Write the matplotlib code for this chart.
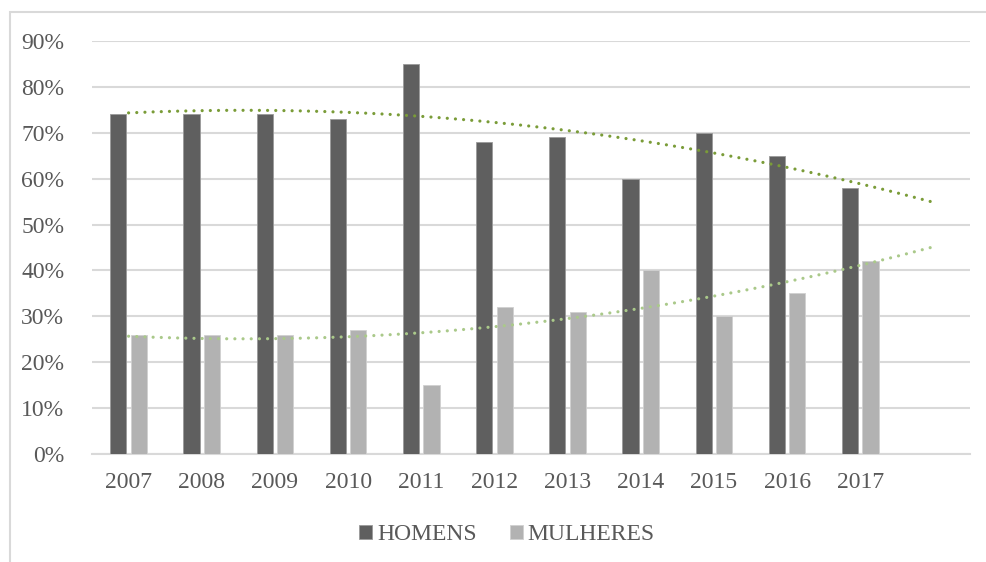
import numpy as np
import matplotlib
matplotlib.use("Agg")
import matplotlib.pyplot as plt
from matplotlib.patches import Rectangle

years = ["2007", "2008", "2009", "2010", "2011", "2012", "2013", "2014", "2015", "2016", "2017"]
homens = [0.74, 0.74, 0.74, 0.73, 0.85, 0.68, 0.69, 0.60, 0.70, 0.65, 0.58]
mulheres = [0.26, 0.26, 0.26, 0.27, 0.15, 0.32, 0.31, 0.40, 0.30, 0.35, 0.42]
yticks = [0, 0.1, 0.2, 0.3, 0.4, 0.5, 0.6, 0.7, 0.8, 0.9]

plt.rcParams['font.family'] = ['Liberation Serif', 'DejaVu Serif']
txt = '#595959'

fig = plt.figure(figsize=(9.87, 5.62), dpi=100)
ax = fig.add_axes([92/987, 1-454/562, (970-92)/987, (454-41)/562])

n = len(years)
x = np.arange(n)
w = 0.22
off = 0.14
ax.bar(x - off, homens, w, color='#5f5f5f', edgecolor='#9a9a9a', linewidth=0.6, label='HOMENS', zorder=3)
ax.bar(x + off, mulheres, w, color='#b2b2b2', edgecolor='#d0d0d0', linewidth=0.6, label='MULHERES', zorder=3)

# polynomial (order 2) trendlines, forecast forward one period
xf = np.arange(1, n + 1)
xs = np.linspace(1, n + 1, 300)
ph = np.polyfit(xf, homens, 2)
pm = np.polyfit(xf, mulheres, 2)
ax.plot(xs - 1, np.polyval(ph, xs), color='#7a9c38', lw=2.3, ls=(0, (0.01, 2.55)),
        dash_capstyle='round', zorder=4)
ax.plot(xs - 1, np.polyval(pm, xs), color='#aac98a', lw=2.3, ls=(0, (0.01, 2.55)),
        dash_capstyle='round', zorder=4)

ax.set_xlim(-0.5, n + 0.5)
ax.set_ylim(0, 0.9)
ax.set_xticks(list(x) + [n])
ax.set_xticklabels(years + [''])
ax.set_yticks(yticks)
ax.set_yticklabels([f"{int(round(v*100))}%" for v in yticks])
ax.tick_params(axis='both', length=0, labelsize=17, colors=txt)
ax.tick_params(axis='y', pad=20)
ax.tick_params(axis='x', pad=13)
ax.grid(axis='y', color='#d9d9d9', lw=1.5, zorder=0)
ax.set_axisbelow(True)
for s in ['left', 'right', 'top']:
    ax.spines[s].set_visible(False)
ax.spines['bottom'].set_color('#d9d9d9')
ax.spines['bottom'].set_linewidth(1.5)

leg = fig.legend(loc='center', bbox_to_anchor=(507/987, 1-535/562), ncol=2, frameon=False,
                 fontsize=17, handlelength=0.55, handleheight=0.55, handletextpad=0.2,
                 columnspacing=1.4, labelcolor=txt)

fig.patches.append(Rectangle((10.5/987, -0.2), 1.2, 1.2 - 12/562, transform=fig.transFigure,
                             fill=False, edgecolor='#d9d9d9', lw=1.5))

fig.savefig('out.png', dpi=100)
